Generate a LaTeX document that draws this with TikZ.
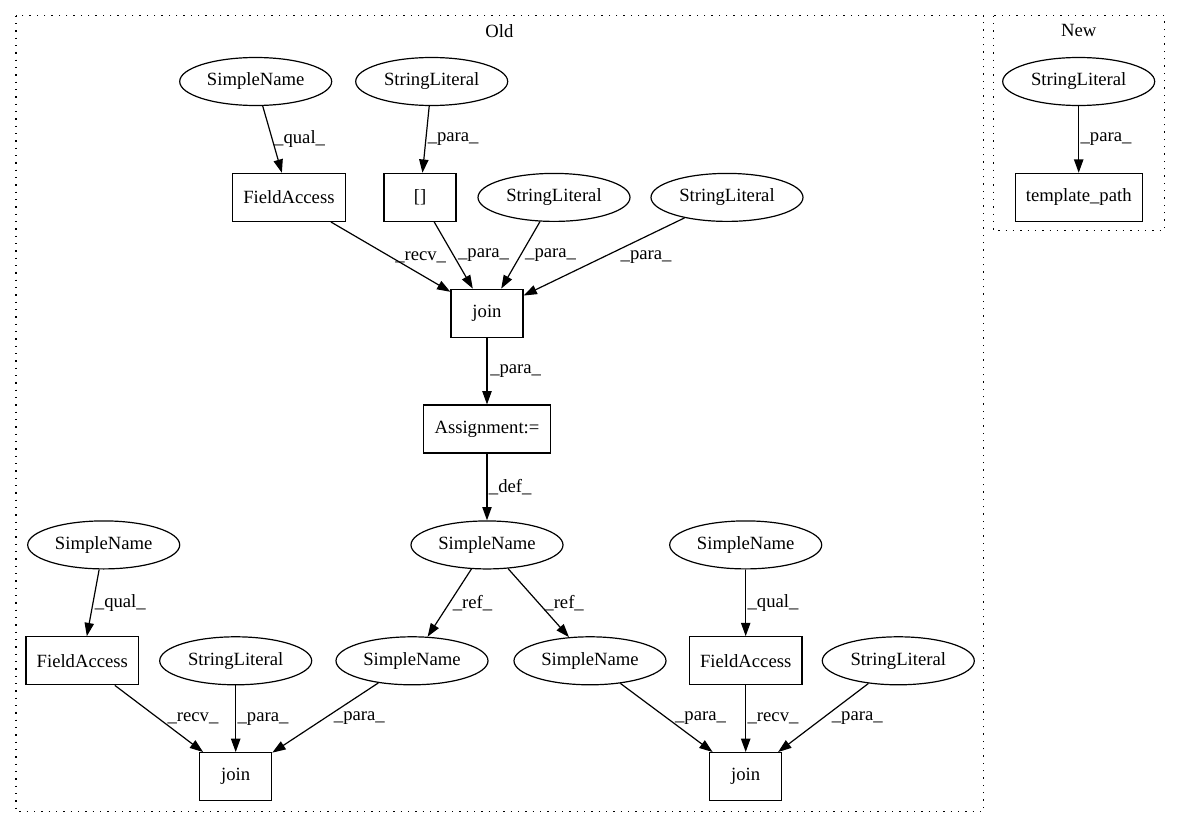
\documentclass[tikz,border=0pt]{standalone}
\usepackage{fontspec}
\setmainfont{Liberation Serif}
\usetikzlibrary{arrows.meta, shapes.geometric, positioning}
\tikzset{
	expr/.style   = {draw, ellipse, minimum width=114pt, minimum height=36pt, inner sep=0pt},
	stmt/.style   = {draw, rectangle, minimum width=54pt, minimum height=36pt, inner xsep=8pt, inner ysep=0pt},
	lbl/.style    = {midway, anchor=west, inner sep=1pt},
	group/.style  = {draw, line width=1pt, dash pattern=on 1pt off 4.5pt},
}
\begin{document}
\begin{tikzpicture}[x=0.75pt, y=-0.75pt, >={Triangle[length=10pt, width=7pt]}, line width=0.9pt,
	node distance=86.9pt, every node/.style={font=\fontsize{14pt}{17pt}\selectfont}]
	\useasboundingbox (0,0) rectangle (1183,828);
	
	% Draw the cluster frames
	\draw[group] (16,15.7) rectangle (983.7,811.7);
	\draw[group] (993.3,15.7) rectangle (1164.4,230.7);
	\node (oldtitle) at (499.4,30.7) {Old};
	\node (newtitle) at (1078.7,30.7) {New};
	
	% Draw the upper part of the old tree
	\draw
	node[expr] at (255.7,81.5) (oqual) {SimpleName}
	node[expr] at (431.7,81.5) (ostr) {StringLiteral}
	node[stmt] at (288.9,197.4) (ofield) {FieldAccess}
	node[stmt] at (420,197.4) (oindex) {[]}
	node[expr] at (554,197.4) (ostra) {StringLiteral}
	node[expr] at (727,197.4) (ostrb) {StringLiteral}
	node[stmt] at (487,313.2) (ojoin) {join}
	node[stmt, below of = ojoin] (oassign) {Assignment:=}
	node[expr, below of = oassign] (odef) {SimpleName};
	
	% Draw the lower part of the old tree
	\draw
	node[expr] at (103.7,544.9) (lqual) {SimpleName}
	node[stmt] at (82.3,660.8) (lfield) {FieldAccess}
	node[expr] at (235.7,660.8) (lstr) {StringLiteral}
	node[stmt, below of = lstr] (ljoin) {join}
	node[expr] at (412,660.8) (lref) {SimpleName}
	node[expr] at (590,660.8) (rref) {SimpleName}
	node[expr] at (745.7,544.9) (rqual) {SimpleName}
	node[stmt, below of = rqual] (rfield) {FieldAccess}
	node[stmt, below of = rfield] (rjoin) {join}
	node[expr] at (898.3,660.8) (rstr) {StringLiteral};
	
	% Draw the new tree
	\draw
	node[expr] at (1078.7,81.5) (nstr) {StringLiteral}
	node[stmt, below of = nstr] (npath) {template\_path};
	
	% Connect the old tree
	\draw[->] (oqual) -- (ofield) node[lbl] {\_qual\_};
	\draw[->] (ostr) -- (oindex) node[lbl] {\_para\_};
	\draw[->] (ofield) -- (ojoin) node[lbl, xshift=2pt] {\_recv\_};
	\draw[->] (oindex) -- (ojoin) node[lbl, xshift=2pt] {\_para\_};
	\draw[->] (ostra) -- (ojoin) node[lbl, xshift=2pt] {\_para\_};
	\draw[->] (ostrb) -- (ojoin) node[lbl, xshift=11pt] {\_para\_};
	\draw[->] (ojoin) -- (oassign) node[lbl, xshift=1pt] {\_para\_};
	\draw[->] (oassign) -- (odef) node[lbl] {\_def\_};
	\draw[->] (odef) -- (lref) node[lbl, xshift=1pt] {\_ref\_};
	\draw[->] (odef) -- (rref) node[lbl, xshift=3pt] {\_ref\_};
	
	\draw[->] (lqual) -- (lfield) node[lbl] {\_qual\_};
	\draw[->] (lfield) -- (ljoin) node[lbl, xshift=5pt] {\_recv\_};
	\draw[->] (lstr) -- (ljoin) node[lbl] {\_para\_};
	\draw[->] (lref) -- (ljoin) node[lbl, xshift=5pt] {\_para\_};
	
	\draw[->] (rqual) -- (rfield) node[lbl] {\_qual\_};
	\draw[->] (rref) -- (rjoin) node[lbl, xshift=5pt] {\_para\_};
	\draw[->] (rfield) -- (rjoin) node[lbl] {\_recv\_};
	\draw[->] (rstr) -- (rjoin) node[lbl, xshift=5pt] {\_para\_};
	
	% Connect the new tree
	\draw[->] (nstr) -- (npath) node[lbl] {\_para\_};
	
\end{tikzpicture}
\end{document}
